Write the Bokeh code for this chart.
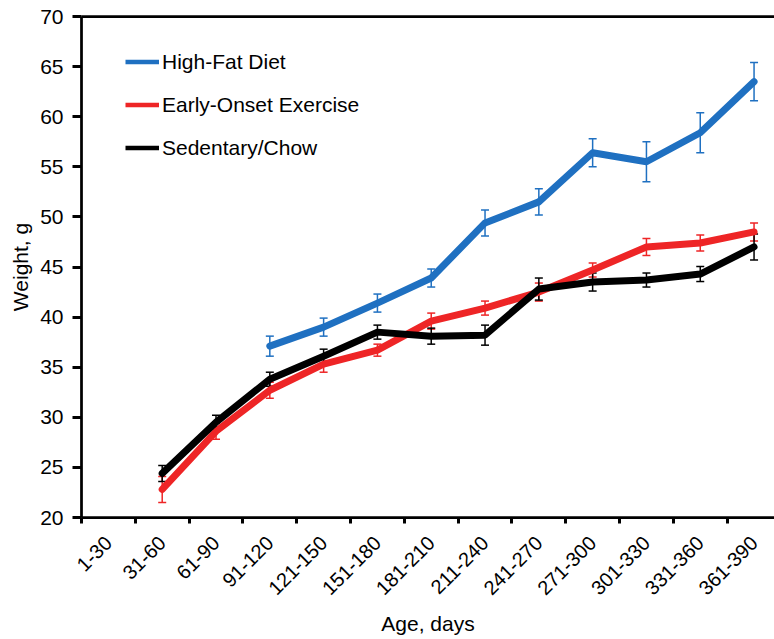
import math
from bokeh.plotting import figure
from bokeh.models import (ColumnDataSource, FixedTicker, LinearAxis, Range1d,
                          Whisker, TeeHead, Legend, LegendItem)
from bokeh.embed import file_html
from bokeh.resources import INLINE

categories = ["1-30", "31-60", "61-90", "91-120", "121-150", "151-180", "181-210",
              "211-240", "241-270", "271-300", "301-330", "331-360", "361-390"]
nan = float("nan")
high_fat = [nan, nan, nan, 37.1, 39.0, 41.4, 43.9, 49.4, 51.5, 56.4, 55.5, 58.4, 63.5]
high_fat_err = [nan, nan, nan, 1.0, 0.9, 0.9, 0.9, 1.3, 1.3, 1.4, 2.0, 2.0, 1.9]
exercise = [nan, 22.8, 28.6, 32.7, 35.3, 36.7, 39.6, 40.9, 42.5, 44.7, 47.0, 47.4, 48.5]
exercise_err = [nan, 1.3, 0.8, 0.8, 0.8, 0.6, 0.8, 0.7, 0.9, 0.7, 0.85, 0.8, 0.9]
sedentary = [nan, 24.4, 29.5, 33.8, 36.1, 38.5, 38.1, 38.2, 42.8, 43.5, 43.7, 44.3, 47.0]
sedentary_err = [nan, 0.8, 0.7, 0.7, 0.7, 0.7, 0.8, 1.0, 1.1, 0.9, 0.7, 0.75, 1.3]
series_names = ["High-Fat Diet", "Early-Onset Exercise", "Sedentary/Chow"]
colors = ["#1F70C1", "#EE2526", "#000000"]
y_ticks = [20, 25, 30, 35, 40, 45, 50, 55, 60, 65, 70]

FONT = "Liberation Sans"

p = figure(width=774, height=639, output_backend="svg", toolbar_location=None,
           x_range=Range1d(0, 12.88), y_range=Range1d(20, 70),
           x_axis_type=None, y_axis_type=None)
p.min_border_left = 81
p.min_border_right = 0
p.min_border_top = 16
p.min_border_bottom = 122
p.outline_line_color = None
p.xgrid.visible = False
p.ygrid.visible = False
p.background_fill_color = "white"

centers = [i + 0.5 for i in range(len(categories))]

# bottom axis
xa = LinearAxis(ticker=FixedTicker(ticks=centers, minor_ticks=list(range(len(categories) + 1))))
xa.major_label_overrides = {c: lab for c, lab in zip(centers, categories)}
xa.major_tick_out = 0
xa.major_tick_in = 0
xa.minor_tick_out = 6
xa.minor_tick_in = 0
xa.minor_tick_line_width = 3
xa.minor_tick_line_color = "black"
xa.axis_line_width = 2.75
xa.axis_line_color = "black"
xa.major_label_orientation = math.pi / 4
xa.major_label_text_font = FONT
xa.major_label_text_font_size = "20px"
xa.major_label_text_color = "black"
xa.major_label_standoff = 16
xa.axis_label = "Age, days"
xa.axis_label_text_font = FONT
xa.axis_label_text_font_size = "21px"
xa.axis_label_text_font_style = "normal"
xa.axis_label_text_color = "black"
xa.axis_label_standoff = 8
p.add_layout(xa, "below")

# left axis
ya = LinearAxis(ticker=FixedTicker(ticks=y_ticks))
ya.major_tick_out = 9
ya.major_tick_in = 0
ya.major_tick_line_width = 3
ya.minor_tick_out = 0
ya.minor_tick_in = 0
ya.axis_line_width = 2.75
ya.major_label_text_font = FONT
ya.major_label_text_font_size = "21px"
ya.major_label_text_color = "black"
ya.major_label_standoff = 9
ya.axis_label = "Weight, g"
ya.axis_label_text_font = FONT
ya.axis_label_text_font_size = "21px"
ya.axis_label_text_font_style = "normal"
ya.axis_label_text_color = "black"
ya.axis_label_standoff = 5
p.add_layout(ya, "left")

# top line
ta = LinearAxis(ticker=FixedTicker(ticks=[]))
ta.major_tick_out = 0
ta.major_tick_in = 0
ta.minor_tick_out = 0
ta.minor_tick_in = 0
ta.axis_line_width = 2.75
ta.major_label_text_font_size = "0px"
ta.major_label_standoff = 0
p.add_layout(ta, "above")

items = []
for name, vals, errs, col in zip(series_names, [high_fat, exercise, sedentary],
                                 [high_fat_err, exercise_err, sedentary_err], colors):
    xs = [c for c, v in zip(centers, vals) if not math.isnan(v)]
    ys = [v for v in vals if not math.isnan(v)]
    es = [e for v, e in zip(vals, errs) if not math.isnan(v)]
    src = ColumnDataSource(dict(x=xs, y=ys,
                                upper=[v + e for v, e in zip(ys, es)],
                                lower=[v - e for v, e in zip(ys, es)]))
    w = Whisker(base="x", upper="upper", lower="lower", source=src,
                line_color=col, line_width=1.5,
                upper_head=TeeHead(size=8, line_color=col, line_width=1.5),
                lower_head=TeeHead(size=8, line_color=col, line_width=1.5))
    p.add_layout(w)
    # thinner copy used as the legend swatch (hidden under the main line)
    lr = p.line("x", "y", source=src, line_color=col, line_width=4.5)
    p.line("x", "y", source=src, line_color=col, line_width=7,
           line_join="round", line_cap="round")
    items.append(LegendItem(label=name, renderers=[lr]))

legend = Legend(items=items, location=(44, 357))
legend.glyph_width = 34
legend.glyph_height = 25
legend.label_height = 25
legend.spacing = 18
legend.padding = 0
legend.margin = 0
legend.label_standoff = 3
legend.label_text_font = FONT
legend.label_text_font_size = "21px"
legend.label_text_color = "black"
legend.border_line_color = None
legend.background_fill_alpha = 0
p.add_layout(legend)

open("out.html", "w").write(file_html(p, INLINE))
